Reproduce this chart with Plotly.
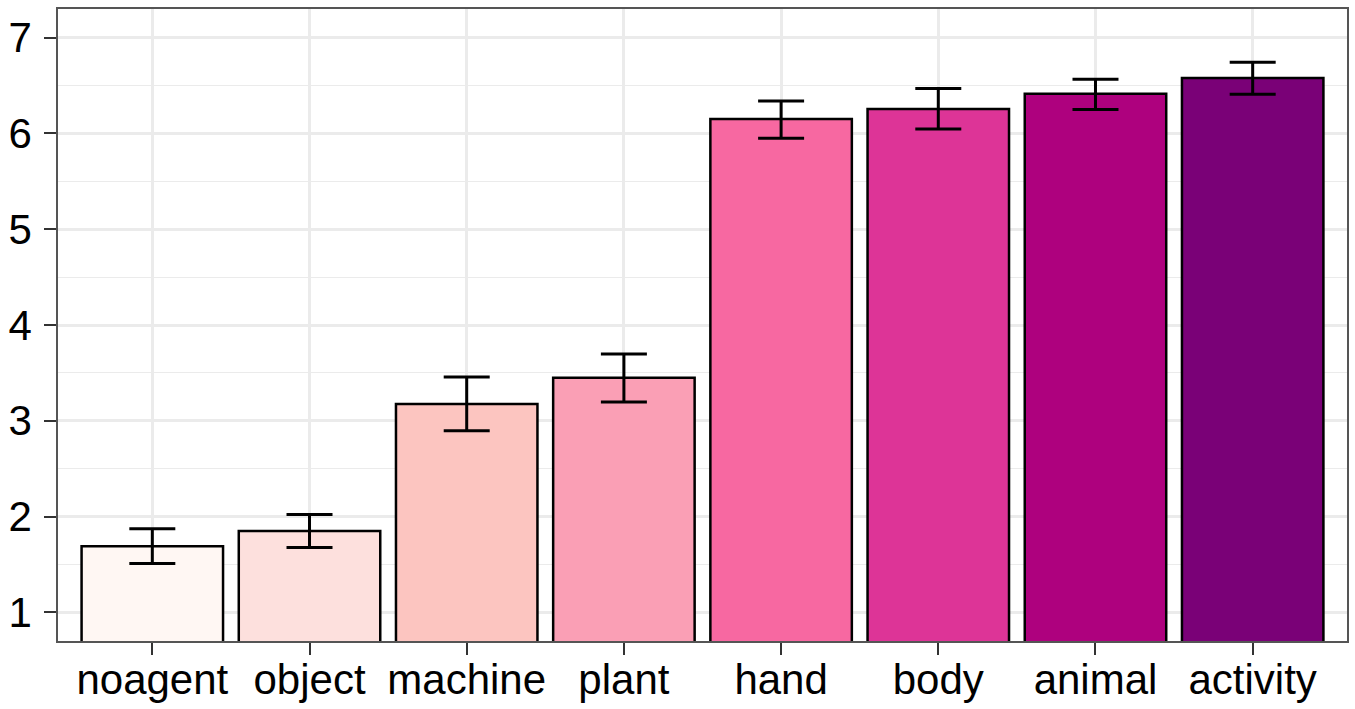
import plotly.graph_objects as go

# Mean ratings per agent category with error-bar limits
categories = ["noagent", "object", "machine", "plant", "hand", "body", "animal", "activity"]
means = [1.69, 1.85, 3.175, 3.45, 6.15, 6.255, 6.415, 6.58]
upper = [1.872, 2.021, 3.458, 3.698, 6.34, 6.469, 6.567, 6.744]
lower = [1.51, 1.677, 2.896, 3.195, 5.95, 6.046, 6.25, 6.41]
fill_colors = ["#FFF7F3", "#FDE0DD", "#FCC5C0", "#FA9FB5",
               "#F768A1", "#DD3497", "#AE017E", "#7A0177"]
y_ticks = [1, 2, 3, 4, 5, 6, 7]

err_plus = [u - m for u, m in zip(upper, means)]
err_minus = [m - l for m, l in zip(means, lower)]

fig = go.Figure(
    go.Bar(
        x=categories,
        y=means,
        width=0.9,
        marker=dict(color=fill_colors, line=dict(color="black", width=2.5)),
        error_y=dict(
            type="data",
            symmetric=False,
            array=err_plus,
            arrayminus=err_minus,
            color="black",
            thickness=3,
            width=23,
        ),
        showlegend=False,
    )
)

grid = "#EBEBEB"
fig.update_layout(
    width=1355,
    height=709,
    margin=dict(l=58, r=8, t=9, b=68),
    paper_bgcolor="white",
    plot_bgcolor="white",
    font=dict(family="Liberation Sans, Arial, sans-serif", size=42, color="black"),
    bargap=0.1,
)
fig.update_xaxes(
    range=[-0.6, 7.6],
    automargin=False,
    showgrid=True,
    gridcolor=grid,
    gridwidth=2.5,
    ticks="outside",
    ticklen=12,
    tickwidth=2,
    tickcolor="#333333",
    showline=True,
    linecolor="#555555",
    linewidth=1.5,
    mirror=True,
    ticklabelstandoff=-11,
    zeroline=False,
)
fig.update_yaxes(
    range=[0.7, 7.3],
    automargin=False,
    tickvals=y_ticks,
    showgrid=True,
    gridcolor=grid,
    gridwidth=2.5,
    minor=dict(dtick=0.5, tick0=0.5, showgrid=True, gridcolor=grid, gridwidth=1.2),
    ticks="outside",
    ticklen=12,
    tickwidth=2,
    tickcolor="#333333",
    showline=True,
    linecolor="#555555",
    linewidth=1.5,
    mirror=True,
    ticklabelstandoff=4,
    zeroline=False,
)

fig.write_html("out.html")
